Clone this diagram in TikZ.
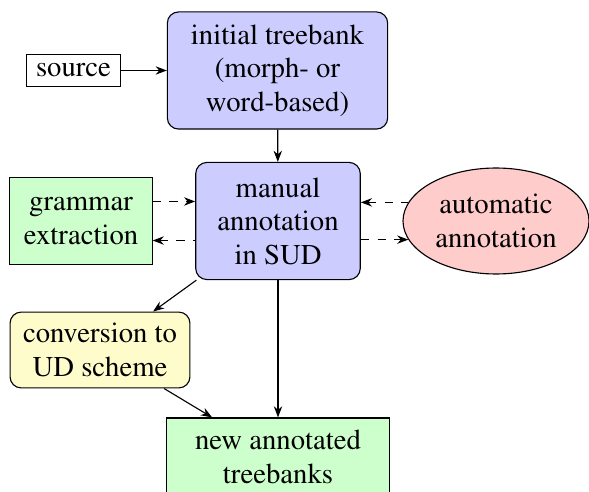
\documentclass[tikz,border=0pt]{standalone}
\usepackage[T1]{fontenc}
\usepackage{mathptmx}
\usepackage{xcolor}
\usetikzlibrary{arrows, arrows.meta}
\usetikzlibrary{shapes.geometric}

\begin{document}
\begin{tikzpicture}[x=0.0126cm, y=-0.0126cm,
    every node/.style={font=\fontsize{10.3}{12}\selectfont},
    box/.style={draw, align=center},
    rbox/.style={draw, align=center, rounded corners=4pt},
    >={Stealth[length=4pt, width=3pt]}]
    \useasboundingbox (0,0) rectangle (589,491);

    \node[box] (source) at (73.5,70.5) {source};
    \node[rbox, fill=blue!20, minimum width=79pt, minimum height=42pt] (initial) at (277.5,70.5) {initial treebank\\(morph- or\\word-based)};
    \node[rbox, fill=blue!20, minimum width=59pt, minimum height=42pt] (manual) at (278,221) {manual\\annotation\\in SUD};
    \node[box, fill=green!20, minimum width=51pt, minimum height=31.5pt] (grammar) at (81,221) {grammar\\extraction};
    \node[ellipse, draw, fill=red!20, align=center, inner sep=1pt, minimum width=66.7pt, minimum height=38pt] (auto) at (496,221) {automatic\\annotation};
    \node[rbox, fill=yellow!20, minimum width=64.5pt, minimum height=27.2pt] (conv) at (100,350) {conversion to\\UD scheme};
    \node[box, fill=green!20, minimum width=80pt, minimum height=28pt] (new) at (278,457) {new annotated\\treebanks};

    \draw[->] (source) -- (initial);
    \draw[->] (initial) -- (manual);
    \draw[->, dashed] ([yshift=7pt]grammar.east) -- ([yshift=7pt]manual.west);
    \draw[<-, dashed] ([yshift=-7pt]grammar.east) -- ([yshift=-7pt]manual.west);
    \draw[<-, dashed] (manual.east |- auto.168) -- (auto.168);
    \draw[->, dashed] (manual.east |- auto.192) -- (auto.192);
    \draw[->] (manual) -- (conv);
    \draw[->] (conv) -- (new);
    \draw[->] (manual) -- (new);
  \end{tikzpicture}
\end{document}
